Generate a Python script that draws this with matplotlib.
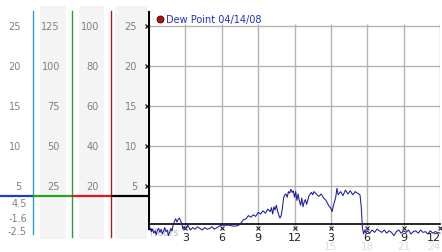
import matplotlib
matplotlib.use("Agg")
import matplotlib.pyplot as plt
from matplotlib.patches import Rectangle

# ---------------- data ----------------
hours = [0.0, 0.1, 0.2, 0.3, 0.4, 0.5, 0.6, 0.7, 0.8, 0.9, 1.0, 1.1, 1.2, 1.3, 1.4, 1.5,
         1.6, 1.7, 1.8, 1.9, 2.0, 2.1, 2.2, 2.3, 2.4, 2.5, 2.6, 2.7, 2.8, 2.9, 3.0, 3.2,
         3.4, 3.6, 3.8, 4.0, 4.2, 4.4, 4.6, 4.8, 5.0, 5.2, 5.4, 5.6, 5.8, 6.0, 6.3, 6.6,
         6.9, 7.2, 7.4, 7.6, 7.8, 8.0, 8.2, 8.4, 8.6, 8.8, 9.0, 9.2, 9.4, 9.6, 9.8, 10.0,
         10.1, 10.2, 10.3, 10.4, 10.5, 10.6, 10.7, 10.8, 10.9, 11.0, 11.1, 11.2, 11.3, 11.4,
         11.5, 11.6, 11.7, 11.8, 11.9, 12.0, 12.1, 12.2, 12.3, 12.4, 12.5, 12.6, 12.7, 12.8,
         12.9, 13.0, 13.2, 13.4, 13.5, 13.6, 13.8, 14.0, 14.2, 14.4, 14.6, 14.8, 15.0, 15.1,
         15.2, 15.4, 15.5, 15.6, 15.8, 16.0, 16.2, 16.4, 16.6, 16.8, 17.0, 17.2, 17.4, 17.5,
         17.6, 17.7, 17.8, 17.9, 18.0, 18.2, 18.4, 18.6, 18.8, 19.0, 19.2, 19.4, 19.6, 19.8,
         20.0, 20.2, 20.4, 20.6, 20.8, 21.0, 21.2, 21.4, 21.6, 21.8, 22.0, 22.2, 22.4, 22.6,
         22.8, 23.0, 23.2, 23.4, 23.6, 23.8, 24.0]
dew_point = [0.0, -0.3, -0.7, -0.4, -0.9, -0.6, -1.1, -0.5, -0.3, -0.8, -0.4, -1.0, -0.6, -0.2,
             -0.7, -0.5, -1.2, -0.8, -0.3, -0.6, 0.2, 0.6, 0.9, 0.5, 0.8, 1.0, 0.7, 0.3, -0.4,
             -0.1, -0.3, 0.1, -0.5, -0.2, -0.4, -0.1, -0.3, -0.5, -0.2, -0.4, -0.3, -0.1, -0.4,
             -0.2, 0.0, 0.1, 0.1, 0.1, 0.0, 0.0, 0.1, 0.4, 0.8, 0.9, 1.3, 1.1, 1.4, 1.2, 1.7,
             1.5, 1.9, 1.6, 2.1, 1.8, 2.3, 1.5, 2.4, 2.0, 2.6, 1.9, 1.4, 1.0, 1.3, 2.2, 3.5,
             3.9, 4.0, 3.6, 4.3, 4.1, 4.6, 4.2, 4.4, 3.6, 4.3, 3.2, 4.0, 3.1, 2.6, 3.5, 2.4,
             3.0, 3.3, 2.7, 3.8, 4.2, 3.9, 4.3, 4.0, 3.7, 4.0, 3.5, 3.2, 2.6, 2.2, 1.8, 2.5,
             3.6, 4.7, 3.9, 4.3, 3.8, 4.5, 4.0, 4.4, 3.9, 4.3, 4.1, 3.9, 2.5, -0.2, -1.0, -0.5,
             -0.9, -0.6, -0.9, -0.5, -0.8, -0.4, -0.6, -0.8, -0.5, -0.9, -0.6, -0.8, -1.2,
             -0.7, -0.5, -0.9, -0.6, -0.8, -0.5, -1.0, -0.7, -0.6, -0.9, -0.5, -0.8, -0.7,
             -1.0, -0.6, -0.9, -0.7, -0.8, -0.9]

series_label = "Dew Point 04/14/08"
x_ticks = [3, 6, 9, 12, 15, 18, 21, 24]
x_tick_labels = ["3", "6", "9", "12", "3", "6", "9", "12"]
x_faint_ticks = [15, 18, 21, 24]
x_faint_labels = ["15", "18", "21", "24"]
y_ticks = [25, 20, 15, 10, 5]
col1_labels = ["25", "20", "15", "10", "5"]
col2_labels = ["125", "100", "75", "50", "25"]
col3_labels = ["100", "80", "60", "40", "20"]
col4_labels = ["25", "20", "15", "10", "5"]
col1_extra_labels = ["4.5", "-1.6", "-2.5"]

# ---------------- figure ----------------
W, H = 442, 253
fig = plt.figure(figsize=(W / 100, H / 100), dpi=100)
fig.patch.set_facecolor("white")

# decoration layer in pixel coordinates
deco = fig.add_axes([0, 0, 1, 1], zorder=0)
deco.set_xlim(0, W)
deco.set_ylim(H, 0)
deco.axis("off")

# main axes
Y_TOP, Y_BOT = 26.75, -1.625
ax = fig.add_axes([149 / W, 1 - 240 / H, 291 / W, 227 / H], zorder=1)
ax.set_facecolor("none")
ax.set_xlim(0, 24)
ax.set_ylim(Y_BOT, Y_TOP)
ax.axis("off")


def ypix(v):
    return 13 + (Y_TOP - v) * 8.0


# gray column backgrounds
for x0, x1 in [(40, 66), (79, 104), (115, 147)]:
    deco.add_patch(Rectangle((x0, 7), x1 - x0, 233, facecolor="#f4f4f4", edgecolor="none"))

# colored vertical lines
deco.plot([33, 33], [12, 235], color="#2f9fd4", lw=1.0)
deco.plot([72, 72], [12, 238], color="#2e9e2e", lw=1.0)
deco.plot([111, 111], [12, 238], color="#b01c1c", lw=1.0)

# horizontal colored baseline
yb = 197
deco.plot([0, 33], [yb, yb], color="#1a3fcc", lw=1.6, solid_capstyle="butt")
deco.plot([33, 72], [yb, yb], color="#21a821", lw=1.6, solid_capstyle="butt")
deco.plot([72, 111], [yb, yb], color="#dd1a1a", lw=1.6, solid_capstyle="butt")
deco.plot([111, 149], [yb, yb], color="black", lw=1.6, solid_capstyle="butt")

lab_kw = dict(fontsize=7, color="#808080", va="center", ha="right", family="DejaVu Sans")
for v, a, b, c, d in zip(y_ticks, col1_labels, col2_labels, col3_labels, col4_labels):
    yy = ypix(v)
    deco.text(21, yy, a, **lab_kw)
    deco.text(60, yy, b, **lab_kw)
    deco.text(99, yy, c, **lab_kw)
    deco.text(137, yy, d, **lab_kw)
for yy, t in zip([204, 219, 232], col1_extra_labels):
    deco.text(27, yy, t, **lab_kw)

# grid
ax.hlines(y_ticks, 0, 24, color="#b4b4b4", lw=1.0, zorder=1)
ax.vlines(x_ticks, 0, 25.3, color="#b4b4b4", lw=1.0, zorder=1)

# baseline & left spine
ax.plot([0, 24], [0.2, 0.2], color="black", lw=1.2, zorder=2, clip_on=False)
ax.plot([0, 0], [Y_TOP, -0.4], color="black", lw=1.5, zorder=3, clip_on=False)
ax.plot([0, 0.25], [-0.4, -0.4], color="black", lw=1.0, zorder=3, clip_on=False)

# tick markers
ax.plot([-0.17] * len(y_ticks), y_ticks, ls="none", marker="x", ms=2.2, mew=0.8,
        color="black", clip_on=False, zorder=3)
ax.plot(x_ticks, [-0.3] * len(x_ticks), ls="none", marker="x", ms=2.2, mew=0.8,
        color="#222222", clip_on=False, zorder=3)

# faint labels
for i, (xv, t) in enumerate(zip(x_faint_ticks, x_faint_labels)):
    last = i == len(x_faint_ticks) - 1
    ax.text(xv + (0.08 if last else 0), -2.5, t, fontsize=7.5, color="#dedede",
            ha="right" if last else "center", va="center", clip_on=False, zorder=1)
ax.text(0.1, -0.7, "Hours", fontsize=7, color="#b8bcd0", ha="left", va="center", zorder=1)

# data line
ax.plot(hours, dew_point, color="#1a1aa0", lw=0.75, zorder=4, clip_on=False)

# x tick labels
for i, (xv, t) in enumerate(zip(x_ticks, x_tick_labels)):
    last = i == len(x_ticks) - 1
    ax.text(xv + (0.08 if last else 0), -1.4, t, fontsize=8, color="#222222",
            ha="right" if last else "center", va="center", clip_on=False, zorder=5)

# legend
deco.plot([160], [20], ls="none", marker="o", ms=5, mfc="#b01010", mec="#400000", mew=0.6)
deco.text(165.5, 20, series_label, fontsize=7, color="#2030c0", ha="left", va="center")

fig.savefig("out.png", dpi=100, facecolor="white")
